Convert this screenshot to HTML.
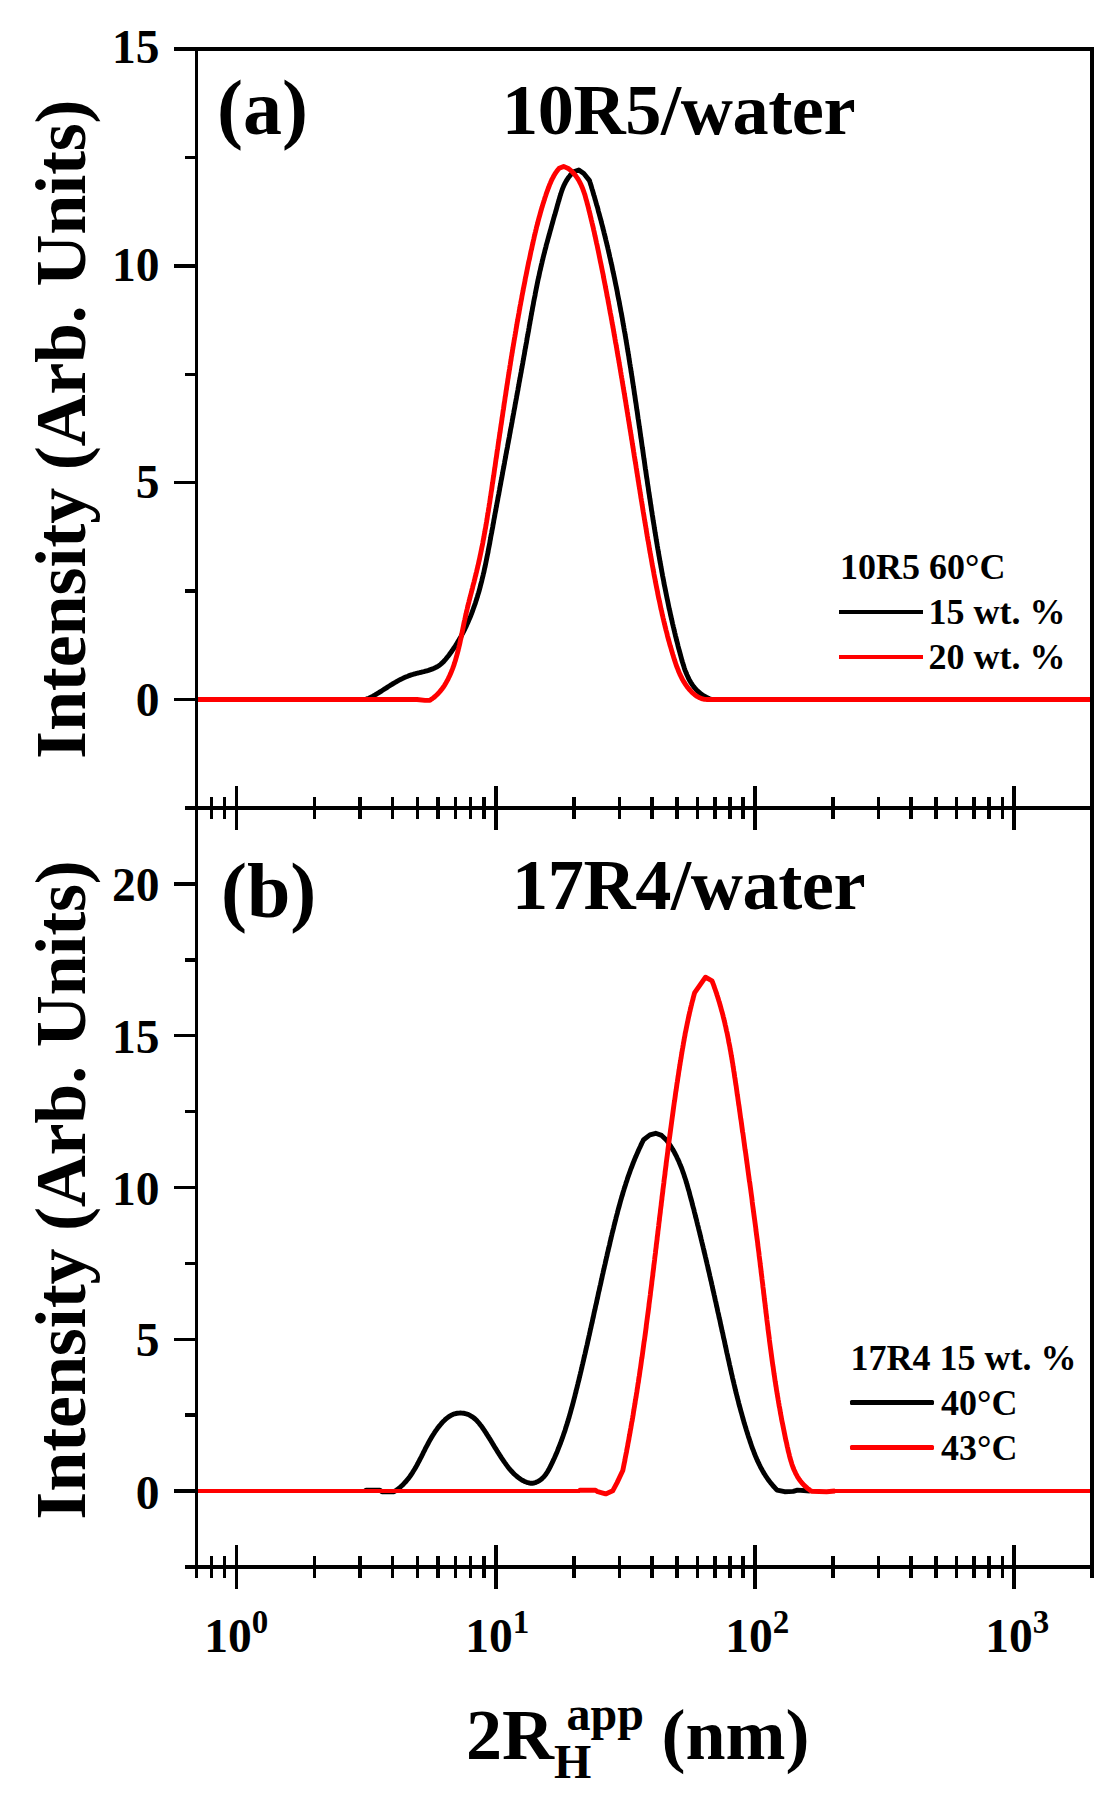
<!DOCTYPE html>
<html lang="en"><head><meta charset="utf-8"><title>DLS size distributions</title>
<style>
html,body{margin:0;padding:0;background:#fff;}
body{width:1115px;height:1802px;overflow:hidden;}
svg{display:block;}
text{font-family:"Liberation Serif","Times New Roman",Times,serif;font-weight:bold;fill:#000;}
.ax{stroke:#000;stroke-width:3.5;fill:none;stroke-linecap:butt;}
.cv{fill:none;stroke-width:4.9;stroke-linejoin:round;stroke-linecap:butt;}
.k{stroke:#000;}.r{stroke:#f00;}
.t72{font-size:72px;}.t71{font-size:72.3px;letter-spacing:-0.4px;}.t78{font-size:78px;}.t47{font-size:47.5px;}.t34{font-size:36px;}.t32{font-size:33px;}.t48{font-size:48px;}.yt{font-size:72px;letter-spacing:-0.54px;}
</style></head><body>
<svg width="1115" height="1802" viewBox="0 0 1115 1802">
<rect x="0" y="0" width="1115" height="1802" fill="#fff"/>
<g id="curves">
<polyline class="cv k" points="360.0,699.5 361.6,699.6 363.1,699.5 364.6,699.4 366.0,699.1 367.5,698.7 368.8,698.2 370.2,697.6 371.5,696.9 372.9,696.2 374.2,695.5 375.4,694.7 376.7,694.0 378.0,693.2 379.3,692.4 380.5,691.6 381.8,690.8 383.0,690.0 384.3,689.2 385.6,688.4 386.8,687.6 388.1,686.7 389.3,686.0 390.6,685.2 391.9,684.4 393.1,683.6 394.4,682.8 395.7,682.1 397.0,681.3 398.3,680.6 399.6,679.9 401.0,679.2 402.3,678.6 403.6,677.9 405.0,677.3 406.4,676.7 407.8,676.2 409.2,675.6 410.6,675.1 412.0,674.7 413.5,674.2 415.0,673.8 416.5,673.4 418.0,673.0 419.5,672.7 421.0,672.3 422.5,671.9 423.9,671.6 425.4,671.2 426.9,670.8 428.4,670.4 429.8,669.9 431.2,669.4 432.6,668.9 434.0,668.3 435.3,667.7 436.6,667.0 437.9,666.3 439.1,665.5 440.3,664.6 441.4,663.7 442.5,662.6 443.6,661.6 444.6,660.4 445.6,659.3 446.6,658.1 447.5,656.9 448.5,655.7 449.4,654.5 450.3,653.2 451.2,652.0 452.1,650.8 452.9,649.5 453.8,648.3 454.6,647.0 455.4,645.8 456.2,644.5 457.0,643.2 457.8,641.9 458.6,640.7 459.3,639.4 460.1,638.1 460.8,636.8 461.5,635.5 462.2,634.2 462.9,632.8 463.6,631.5 464.3,630.2 464.9,628.9 465.6,627.5 466.2,626.2 466.8,624.8 467.4,623.5 468.0,622.1 468.6,620.8 469.2,619.4 469.8,618.0 470.4,616.6 470.9,615.3 471.5,613.9 472.0,612.5 472.5,611.1 473.0,609.7 473.5,608.3 474.0,606.9 474.5,605.5 475.0,604.1 475.5,602.7 475.9,601.3 476.4,599.9 476.8,598.4 477.3,597.0 477.7,595.6 478.1,594.1 478.6,592.7 479.0,591.3 479.4,589.8 479.8,588.4 480.2,586.9 480.5,585.5 480.9,584.0 481.3,582.6 481.7,581.1 482.0,579.7 482.4,578.2 482.7,576.8 483.1,575.3 483.4,573.8 483.8,572.4 484.1,570.9 484.4,569.4 484.7,568.0 485.1,566.5 485.4,565.0 485.7,563.5 486.0,562.0 486.3,560.6 486.6,559.1 486.9,557.6 487.2,556.1 487.5,554.6 487.8,553.2 488.1,551.7 488.3,550.2 488.6,548.7 488.9,547.2 489.2,545.7 489.5,544.2 489.8,542.8 490.0,541.3 490.3,539.8 490.6,538.3 490.8,536.8 491.1,535.3 491.4,533.8 491.7,532.4 491.9,530.9 492.2,529.4 492.5,527.9 492.8,526.4 493.0,524.9 493.3,523.4 493.6,522.0 493.8,520.5 494.1,519.0 494.4,517.5 494.7,516.0 494.9,514.6 495.2,513.1 495.5,511.6 495.8,510.1 496.0,508.6 496.3,507.2 496.6,505.7 496.8,504.2 497.1,502.7 497.4,501.2 497.7,499.8 497.9,498.3 498.2,496.8 498.5,495.3 498.8,493.9 499.0,492.4 499.3,490.9 499.6,489.4 499.8,488.0 500.1,486.5 500.4,485.0 500.7,483.5 500.9,482.1 501.2,480.6 501.5,479.1 501.8,477.6 502.0,476.2 502.3,474.7 502.6,473.2 502.8,471.7 503.1,470.3 503.4,468.8 503.7,467.3 503.9,465.9 504.2,464.4 504.5,462.9 504.7,461.4 505.0,460.0 505.3,458.5 505.6,457.0 505.8,455.6 506.1,454.1 506.4,452.6 506.6,451.1 506.9,449.7 507.2,448.2 507.5,446.7 507.7,445.3 508.0,443.8 508.3,442.3 508.5,440.9 508.8,439.4 509.1,437.9 509.4,436.4 509.6,435.0 509.9,433.5 510.2,432.0 510.4,430.6 510.7,429.1 511.0,427.6 511.3,426.2 511.5,424.7 511.8,423.2 512.1,421.7 512.3,420.3 512.6,418.8 512.9,417.3 513.1,415.9 513.4,414.4 513.7,412.9 513.9,411.5 514.2,410.0 514.5,408.5 514.8,407.1 515.0,405.6 515.3,404.1 515.6,402.6 515.8,401.2 516.1,399.7 516.4,398.2 516.6,396.8 516.9,395.3 517.2,393.8 517.4,392.4 517.7,390.9 518.0,389.4 518.2,387.9 518.5,386.5 518.8,385.0 519.0,383.5 519.3,382.1 519.6,380.6 519.8,379.1 520.1,377.6 520.4,376.2 520.6,374.7 520.9,373.2 521.2,371.7 521.4,370.3 521.7,368.8 522.0,367.3 522.2,365.9 522.5,364.4 522.8,362.9 523.0,361.4 523.3,360.0 523.6,358.5 523.8,357.0 524.1,355.5 524.4,354.1 524.6,352.6 524.9,351.1 525.1,349.6 525.4,348.2 525.7,346.7 525.9,345.2 526.2,343.7 526.5,342.2 526.7,340.8 527.0,339.3 527.2,337.8 527.5,336.3 527.8,334.8 528.0,333.4 528.3,331.9 528.6,330.4 528.8,328.9 529.1,327.4 529.3,326.0 529.6,324.5 529.9,323.0 530.1,321.5 530.4,320.0 530.7,318.6 530.9,317.1 531.2,315.6 531.5,314.1 531.7,312.6 532.0,311.2 532.3,309.7 532.5,308.2 532.8,306.7 533.1,305.2 533.4,303.8 533.6,302.3 533.9,300.8 534.2,299.3 534.5,297.8 534.8,296.4 535.1,294.9 535.3,293.4 535.6,291.9 535.9,290.5 536.2,289.0 536.5,287.5 536.8,286.0 537.1,284.6 537.4,283.1 537.7,281.6 538.0,280.1 538.3,278.7 538.7,277.2 539.0,275.7 539.3,274.3 539.6,272.8 539.9,271.3 540.3,269.9 540.6,268.4 540.9,267.0 541.3,265.5 541.6,264.0 542.0,262.6 542.3,261.1 542.7,259.7 543.0,258.2 543.4,256.7 543.7,255.3 544.1,253.8 544.5,252.4 544.8,250.9 545.2,249.5 545.6,248.0 546.0,246.6 546.3,245.1 546.7,243.7 547.1,242.3 547.5,240.8 547.9,239.4 548.3,237.9 548.7,236.5 549.1,235.0 549.5,233.6 549.9,232.1 550.3,230.7 550.7,229.3 551.1,227.8 551.5,226.4 551.9,224.9 552.3,223.5 552.7,222.0 553.1,220.6 553.5,219.2 553.9,217.7 554.3,216.3 554.8,214.8 555.2,213.4 555.6,211.9 556.0,210.5 556.4,209.1 556.8,207.6 557.2,206.2 557.6,204.7 558.0,203.3 558.4,201.8 558.9,200.4 559.3,198.9 559.7,197.5 560.1,196.0 560.6,194.6 561.0,193.2 561.5,191.8 562.0,190.3 562.5,188.9 563.0,187.6 563.6,186.2 564.2,184.8 564.9,183.5 565.6,182.2 566.3,180.9 567.1,179.6 567.9,178.4 568.7,177.2 569.7,176.0 570.6,174.8 571.7,173.7 572.8,172.6 573.6,171.8 578.8,170.0 583.8,173.5 589.5,180.6 589.9,182.0 590.4,183.5 590.8,184.9 591.3,186.3 591.7,187.8 592.1,189.2 592.6,190.6 593.0,192.1 593.4,193.5 593.8,195.0 594.3,196.4 594.7,197.8 595.1,199.3 595.5,200.7 595.9,202.2 596.3,203.6 596.7,205.0 597.2,206.5 597.6,207.9 598.0,209.4 598.3,210.8 598.7,212.3 599.1,213.7 599.5,215.2 599.9,216.6 600.3,218.1 600.7,219.5 601.1,220.9 601.4,222.4 601.8,223.8 602.2,225.3 602.6,226.7 602.9,228.2 603.3,229.7 603.7,231.1 604.0,232.6 604.4,234.0 604.8,235.5 605.1,236.9 605.5,238.4 605.8,239.8 606.2,241.3 606.5,242.7 606.9,244.2 607.2,245.7 607.6,247.1 607.9,248.6 608.3,250.0 608.6,251.5 608.9,252.9 609.3,254.4 609.6,255.9 609.9,257.3 610.3,258.8 610.6,260.3 610.9,261.7 611.2,263.2 611.6,264.6 611.9,266.1 612.2,267.6 612.5,269.0 612.8,270.5 613.1,272.0 613.5,273.4 613.8,274.9 614.1,276.4 614.4,277.8 614.7,279.3 615.0,280.8 615.3,282.2 615.6,283.7 615.9,285.2 616.2,286.6 616.5,288.1 616.8,289.6 617.1,291.0 617.4,292.5 617.6,294.0 617.9,295.5 618.2,296.9 618.5,298.4 618.8,299.9 619.1,301.3 619.4,302.8 619.6,304.3 619.9,305.8 620.2,307.2 620.5,308.7 620.7,310.2 621.0,311.7 621.3,313.1 621.6,314.6 621.8,316.1 622.1,317.6 622.4,319.0 622.6,320.5 622.9,322.0 623.1,323.5 623.4,324.9 623.7,326.4 623.9,327.9 624.2,329.4 624.4,330.9 624.7,332.3 625.0,333.8 625.2,335.3 625.5,336.8 625.7,338.3 626.0,339.7 626.2,341.2 626.5,342.7 626.7,344.2 627.0,345.7 627.2,347.1 627.4,348.6 627.7,350.1 627.9,351.6 628.2,353.1 628.4,354.5 628.7,356.0 628.9,357.5 629.1,359.0 629.4,360.5 629.6,362.0 629.8,363.4 630.1,364.9 630.3,366.4 630.6,367.9 630.8,369.4 631.0,370.9 631.2,372.3 631.5,373.8 631.7,375.3 631.9,376.8 632.2,378.3 632.4,379.8 632.6,381.2 632.8,382.7 633.1,384.2 633.3,385.7 633.5,387.2 633.8,388.7 634.0,390.2 634.2,391.6 634.4,393.1 634.6,394.6 634.9,396.1 635.1,397.6 635.3,399.1 635.5,400.6 635.7,402.0 636.0,403.5 636.2,405.0 636.4,406.5 636.6,408.0 636.8,409.5 637.1,411.0 637.3,412.4 637.5,413.9 637.7,415.4 637.9,416.9 638.1,418.4 638.4,419.9 638.6,421.4 638.8,422.9 639.0,424.3 639.2,425.8 639.4,427.3 639.7,428.8 639.9,430.3 640.1,431.8 640.3,433.3 640.5,434.7 640.7,436.2 640.9,437.7 641.2,439.2 641.4,440.7 641.6,442.2 641.8,443.7 642.0,445.2 642.2,446.6 642.4,448.1 642.7,449.6 642.9,451.1 643.1,452.6 643.3,454.1 643.5,455.6 643.7,457.0 643.9,458.5 644.2,460.0 644.4,461.5 644.6,463.0 644.8,464.5 645.0,466.0 645.2,467.4 645.4,468.9 645.7,470.4 645.9,471.9 646.1,473.4 646.3,474.9 646.5,476.3 646.7,477.8 647.0,479.3 647.2,480.8 647.4,482.3 647.6,483.8 647.8,485.3 648.1,486.7 648.3,488.2 648.5,489.7 648.7,491.2 648.9,492.7 649.2,494.2 649.4,495.6 649.6,497.1 649.8,498.6 650.1,500.1 650.3,501.6 650.5,503.0 650.7,504.5 651.0,506.0 651.2,507.5 651.4,509.0 651.6,510.5 651.9,511.9 652.1,513.4 652.3,514.9 652.6,516.4 652.8,517.9 653.0,519.3 653.2,520.8 653.5,522.3 653.7,523.8 654.0,525.2 654.2,526.7 654.4,528.2 654.7,529.7 654.9,531.2 655.1,532.6 655.4,534.1 655.6,535.6 655.9,537.1 656.1,538.5 656.3,540.0 656.6,541.5 656.8,543.0 657.1,544.4 657.3,545.9 657.6,547.4 657.8,548.9 658.1,550.3 658.3,551.8 658.6,553.3 658.8,554.8 659.1,556.2 659.4,557.7 659.6,559.2 659.9,560.7 660.1,562.1 660.4,563.6 660.7,565.1 660.9,566.5 661.2,568.0 661.5,569.5 661.7,571.0 662.0,572.4 662.3,573.9 662.5,575.4 662.8,576.8 663.1,578.3 663.4,579.8 663.7,581.2 663.9,582.7 664.2,584.2 664.5,585.7 664.8,587.1 665.1,588.6 665.4,590.1 665.7,591.5 666.0,593.0 666.3,594.5 666.6,595.9 666.9,597.4 667.2,598.9 667.5,600.3 667.8,601.8 668.1,603.3 668.4,604.8 668.7,606.2 669.0,607.7 669.3,609.2 669.7,610.6 670.0,612.1 670.3,613.6 670.6,615.0 671.0,616.5 671.3,618.0 671.6,619.4 672.0,620.9 672.3,622.4 672.6,623.8 673.0,625.3 673.3,626.8 673.7,628.2 674.0,629.7 674.4,631.2 674.7,632.6 675.1,634.1 675.4,635.6 675.8,637.0 676.2,638.5 676.5,640.0 676.9,641.4 677.3,642.9 677.7,644.4 678.0,645.8 678.4,647.3 678.8,648.8 679.2,650.2 679.6,651.7 680.0,653.2 680.4,654.7 680.8,656.1 681.2,657.6 681.6,659.1 682.0,660.5 682.4,662.0 682.9,663.4 683.3,664.9 683.8,666.3 684.2,667.7 684.7,669.2 685.2,670.6 685.8,672.0 686.3,673.3 686.9,674.7 687.5,676.0 688.1,677.4 688.7,678.7 689.4,680.0 690.1,681.2 690.8,682.5 691.6,683.7 692.4,684.9 693.3,686.1 694.1,687.2 695.1,688.3 696.0,689.4 697.0,690.4 698.1,691.5 699.2,692.4 700.3,693.4 701.5,694.3 702.7,695.2 704.0,696.0 705.3,696.7 706.7,697.5 708.1,698.1 709.6,698.7 711.1,699.2 712.0,699.5"/>
<rect x="196.5" y="697" width="221.5" height="5" fill="#f00" shape-rendering="crispEdges"/>
<rect x="707.0" y="697" width="385.0" height="5" fill="#f00" shape-rendering="crispEdges"/>
<polyline class="cv r" points="417.0,699.5 425.0,700.4 430.0,700.2 431.3,699.3 432.6,698.4 433.8,697.5 435.0,696.5 436.1,695.5 437.2,694.5 438.2,693.4 439.2,692.3 440.2,691.2 441.1,690.0 442.1,688.9 442.9,687.7 443.8,686.5 444.6,685.2 445.3,684.0 446.1,682.7 446.8,681.4 447.5,680.1 448.2,678.8 448.8,677.4 449.5,676.1 450.1,674.7 450.7,673.4 451.3,672.0 451.8,670.6 452.4,669.2 452.9,667.9 453.4,666.5 453.9,665.1 454.4,663.6 454.8,662.2 455.3,660.8 455.7,659.4 456.1,657.9 456.5,656.5 456.9,655.1 457.3,653.6 457.7,652.2 458.1,650.7 458.4,649.2 458.8,647.8 459.1,646.3 459.5,644.8 459.8,643.4 460.1,641.9 460.4,640.4 460.8,638.9 461.1,637.4 461.4,636.0 461.7,634.5 462.0,633.0 462.3,631.5 462.6,630.0 462.9,628.5 463.2,627.0 463.5,625.6 463.8,624.1 464.1,622.6 464.4,621.1 464.8,619.6 465.1,618.2 465.4,616.7 465.7,615.2 466.1,613.7 466.4,612.3 466.7,610.8 467.1,609.3 467.4,607.9 467.8,606.4 468.1,605.0 468.5,603.5 468.9,602.1 469.2,600.6 469.6,599.2 470.0,597.7 470.3,596.3 470.7,594.8 471.1,593.4 471.5,591.9 471.8,590.5 472.2,589.0 472.6,587.6 472.9,586.1 473.3,584.7 473.7,583.2 474.1,581.8 474.4,580.3 474.8,578.9 475.1,577.4 475.5,576.0 475.9,574.5 476.2,573.1 476.6,571.6 476.9,570.2 477.3,568.7 477.6,567.3 477.9,565.8 478.3,564.4 478.6,562.9 478.9,561.5 479.3,560.0 479.6,558.5 479.9,557.1 480.2,555.6 480.5,554.2 480.8,552.7 481.1,551.2 481.4,549.8 481.7,548.3 482.0,546.8 482.3,545.4 482.6,543.9 482.9,542.4 483.1,540.9 483.4,539.5 483.7,538.0 484.0,536.5 484.2,535.0 484.5,533.6 484.8,532.1 485.0,530.6 485.3,529.1 485.6,527.7 485.8,526.2 486.1,524.7 486.3,523.2 486.6,521.7 486.8,520.3 487.1,518.8 487.3,517.3 487.5,515.8 487.8,514.3 488.0,512.8 488.3,511.4 488.5,509.9 488.7,508.4 489.0,506.9 489.2,505.4 489.4,503.9 489.7,502.4 489.9,501.0 490.1,499.5 490.3,498.0 490.6,496.5 490.8,495.0 491.0,493.5 491.2,492.0 491.5,490.5 491.7,489.1 491.9,487.6 492.1,486.1 492.3,484.6 492.6,483.1 492.8,481.6 493.0,480.1 493.2,478.7 493.4,477.2 493.7,475.7 493.9,474.2 494.1,472.7 494.3,471.2 494.5,469.7 494.7,468.2 495.0,466.8 495.2,465.3 495.4,463.8 495.6,462.3 495.8,460.8 496.0,459.3 496.3,457.8 496.5,456.4 496.7,454.9 496.9,453.4 497.1,451.9 497.3,450.4 497.6,448.9 497.8,447.5 498.0,446.0 498.2,444.5 498.4,443.0 498.6,441.5 498.9,440.0 499.1,438.5 499.3,437.1 499.5,435.6 499.7,434.1 500.0,432.6 500.2,431.1 500.4,429.6 500.6,428.2 500.8,426.7 501.0,425.2 501.3,423.7 501.5,422.2 501.7,420.7 501.9,419.3 502.1,417.8 502.4,416.3 502.6,414.8 502.8,413.3 503.0,411.8 503.2,410.4 503.5,408.9 503.7,407.4 503.9,405.9 504.1,404.4 504.3,402.9 504.6,401.5 504.8,400.0 505.0,398.5 505.2,397.0 505.5,395.5 505.7,394.1 505.9,392.6 506.1,391.1 506.4,389.6 506.6,388.1 506.8,386.7 507.0,385.2 507.3,383.7 507.5,382.2 507.7,380.7 507.9,379.2 508.2,377.8 508.4,376.3 508.6,374.8 508.9,373.3 509.1,371.8 509.3,370.4 509.6,368.9 509.8,367.4 510.0,365.9 510.3,364.4 510.5,363.0 510.7,361.5 511.0,360.0 511.2,358.5 511.4,357.0 511.7,355.6 511.9,354.1 512.2,352.6 512.4,351.1 512.6,349.7 512.9,348.2 513.1,346.7 513.4,345.2 513.6,343.7 513.9,342.3 514.1,340.8 514.4,339.3 514.6,337.8 514.9,336.4 515.1,334.9 515.4,333.4 515.6,331.9 515.9,330.4 516.1,329.0 516.4,327.5 516.6,326.0 516.9,324.5 517.1,323.1 517.4,321.6 517.7,320.1 517.9,318.6 518.2,317.2 518.4,315.7 518.7,314.2 519.0,312.7 519.2,311.3 519.5,309.8 519.8,308.3 520.0,306.8 520.3,305.3 520.6,303.9 520.8,302.4 521.1,300.9 521.4,299.4 521.7,298.0 521.9,296.5 522.2,295.0 522.5,293.6 522.8,292.1 523.1,290.6 523.3,289.1 523.6,287.7 523.9,286.2 524.2,284.7 524.5,283.2 524.8,281.8 525.1,280.3 525.3,278.8 525.6,277.3 525.9,275.9 526.2,274.4 526.5,272.9 526.8,271.4 527.1,270.0 527.4,268.5 527.7,267.0 528.0,265.6 528.3,264.1 528.6,262.6 528.9,261.1 529.3,259.7 529.6,258.2 529.9,256.7 530.2,255.3 530.5,253.8 530.8,252.3 531.1,250.8 531.5,249.4 531.8,247.9 532.1,246.4 532.4,245.0 532.8,243.5 533.1,242.0 533.4,240.6 533.8,239.1 534.1,237.6 534.4,236.2 534.8,234.7 535.1,233.2 535.5,231.8 535.8,230.3 536.2,228.8 536.5,227.4 536.9,225.9 537.3,224.5 537.7,223.0 538.0,221.6 538.4,220.1 538.8,218.7 539.2,217.2 539.6,215.8 540.0,214.3 540.4,212.9 540.8,211.4 541.2,210.0 541.6,208.6 542.1,207.1 542.5,205.7 542.9,204.3 543.4,202.8 543.8,201.4 544.3,200.0 544.7,198.6 545.2,197.1 545.7,195.7 546.1,194.3 546.6,192.9 547.1,191.5 547.6,190.1 548.1,188.7 548.7,187.3 549.2,185.9 549.7,184.5 550.3,183.2 550.9,181.8 551.5,180.4 552.1,179.1 552.8,177.8 553.5,176.5 554.2,175.2 555.0,173.9 555.8,172.7 556.6,171.5 557.5,170.3 558.5,169.1 559.2,168.2 563.6,166.4 568.8,168.8 570.0,169.8 571.1,170.8 572.2,171.8 573.3,172.9 574.3,174.0 575.2,175.1 576.1,176.3 576.9,177.5 577.7,178.7 578.5,179.9 579.2,181.2 579.9,182.5 580.6,183.8 581.2,185.1 581.8,186.5 582.4,187.9 582.9,189.2 583.4,190.6 583.9,192.1 584.4,193.5 584.9,194.9 585.3,196.4 585.7,197.8 586.1,199.3 586.5,200.7 586.9,202.2 587.3,203.7 587.7,205.2 588.1,206.6 588.5,208.1 588.8,209.6 589.2,211.0 589.6,212.5 589.9,214.0 590.3,215.4 590.6,216.9 591.0,218.4 591.3,219.8 591.7,221.3 592.0,222.8 592.4,224.2 592.7,225.7 593.1,227.2 593.4,228.6 593.7,230.1 594.1,231.6 594.4,233.0 594.7,234.5 595.0,236.0 595.4,237.4 595.7,238.9 596.0,240.4 596.3,241.8 596.6,243.3 597.0,244.8 597.3,246.2 597.6,247.7 597.9,249.2 598.2,250.6 598.5,252.1 598.8,253.6 599.1,255.0 599.4,256.5 599.7,258.0 600.0,259.4 600.3,260.9 600.6,262.4 600.9,263.8 601.2,265.3 601.5,266.8 601.8,268.2 602.1,269.7 602.4,271.2 602.7,272.7 603.0,274.1 603.3,275.6 603.5,277.1 603.8,278.5 604.1,280.0 604.4,281.5 604.7,282.9 605.0,284.4 605.3,285.9 605.5,287.3 605.8,288.8 606.1,290.3 606.4,291.8 606.7,293.2 606.9,294.7 607.2,296.2 607.5,297.6 607.8,299.1 608.1,300.6 608.3,302.1 608.6,303.5 608.9,305.0 609.2,306.5 609.4,308.0 609.7,309.4 610.0,310.9 610.2,312.4 610.5,313.8 610.8,315.3 611.1,316.8 611.3,318.3 611.6,319.7 611.9,321.2 612.1,322.7 612.4,324.2 612.7,325.6 612.9,327.1 613.2,328.6 613.5,330.1 613.7,331.5 614.0,333.0 614.2,334.5 614.5,336.0 614.8,337.5 615.0,338.9 615.3,340.4 615.5,341.9 615.8,343.4 616.1,344.8 616.3,346.3 616.6,347.8 616.8,349.3 617.1,350.7 617.3,352.2 617.6,353.7 617.8,355.2 618.1,356.7 618.4,358.1 618.6,359.6 618.9,361.1 619.1,362.6 619.4,364.0 619.6,365.5 619.9,367.0 620.1,368.5 620.4,370.0 620.6,371.4 620.9,372.9 621.1,374.4 621.4,375.9 621.6,377.4 621.9,378.8 622.1,380.3 622.3,381.8 622.6,383.3 622.8,384.8 623.1,386.2 623.3,387.7 623.6,389.2 623.8,390.7 624.1,392.2 624.3,393.6 624.6,395.1 624.8,396.6 625.0,398.1 625.3,399.6 625.5,401.0 625.8,402.5 626.0,404.0 626.2,405.5 626.5,407.0 626.7,408.5 627.0,409.9 627.2,411.4 627.5,412.9 627.7,414.4 627.9,415.9 628.2,417.3 628.4,418.8 628.6,420.3 628.9,421.8 629.1,423.3 629.4,424.8 629.6,426.2 629.8,427.7 630.1,429.2 630.3,430.7 630.6,432.2 630.8,433.6 631.0,435.1 631.3,436.6 631.5,438.1 631.7,439.6 632.0,441.1 632.2,442.5 632.4,444.0 632.7,445.5 632.9,447.0 633.2,448.5 633.4,450.0 633.6,451.4 633.9,452.9 634.1,454.4 634.3,455.9 634.6,457.4 634.8,458.9 635.0,460.3 635.3,461.8 635.5,463.3 635.8,464.8 636.0,466.3 636.2,467.7 636.5,469.2 636.7,470.7 636.9,472.2 637.2,473.7 637.4,475.2 637.6,476.6 637.9,478.1 638.1,479.6 638.3,481.1 638.6,482.6 638.8,484.1 639.0,485.5 639.3,487.0 639.5,488.5 639.8,490.0 640.0,491.5 640.2,493.0 640.5,494.4 640.7,495.9 640.9,497.4 641.2,498.9 641.4,500.4 641.7,501.9 641.9,503.3 642.1,504.8 642.4,506.3 642.6,507.8 642.8,509.3 643.1,510.8 643.3,512.2 643.6,513.7 643.8,515.2 644.1,516.7 644.3,518.2 644.5,519.6 644.8,521.1 645.0,522.6 645.3,524.1 645.5,525.6 645.8,527.0 646.0,528.5 646.3,530.0 646.5,531.5 646.7,533.0 647.0,534.4 647.2,535.9 647.5,537.4 647.7,538.9 648.0,540.4 648.3,541.8 648.5,543.3 648.8,544.8 649.0,546.3 649.3,547.7 649.5,549.2 649.8,550.7 650.0,552.2 650.3,553.6 650.6,555.1 650.8,556.6 651.1,558.1 651.4,559.5 651.6,561.0 651.9,562.5 652.1,564.0 652.4,565.4 652.7,566.9 653.0,568.4 653.2,569.8 653.5,571.3 653.8,572.8 654.0,574.2 654.3,575.7 654.6,577.2 654.9,578.7 655.2,580.1 655.4,581.6 655.7,583.1 656.0,584.5 656.3,586.0 656.6,587.5 656.9,588.9 657.2,590.4 657.5,591.8 657.7,593.3 658.0,594.8 658.3,596.2 658.6,597.7 658.9,599.2 659.3,600.6 659.6,602.1 659.9,603.5 660.2,605.0 660.5,606.5 660.8,607.9 661.1,609.4 661.5,610.8 661.8,612.3 662.1,613.8 662.4,615.2 662.8,616.7 663.1,618.1 663.5,619.6 663.8,621.1 664.2,622.5 664.5,624.0 664.9,625.4 665.2,626.9 665.6,628.3 665.9,629.8 666.3,631.2 666.7,632.7 667.1,634.2 667.4,635.6 667.8,637.1 668.2,638.5 668.6,640.0 669.0,641.4 669.4,642.9 669.8,644.3 670.2,645.8 670.7,647.3 671.1,648.7 671.5,650.2 671.9,651.6 672.4,653.1 672.8,654.5 673.3,656.0 673.7,657.4 674.2,658.9 674.6,660.3 675.1,661.8 675.6,663.2 676.1,664.7 676.6,666.1 677.1,667.5 677.7,668.9 678.2,670.3 678.8,671.7 679.4,673.1 680.0,674.5 680.7,675.8 681.3,677.2 682.0,678.5 682.7,679.8 683.4,681.1 684.2,682.3 685.0,683.6 685.8,684.8 686.6,686.0 687.5,687.2 688.4,688.4 689.4,689.5 690.4,690.6 691.4,691.7 692.4,692.7 693.5,693.7 694.7,694.7 695.9,695.6 697.1,696.4 698.4,697.1 699.7,697.8 701.0,698.4 702.4,698.8 703.9,699.2 705.4,699.4 707.0,699.5 708.0,699.5"/>
<polyline class="cv k" points="365.0,1491.0 366.0,1490.3 380.0,1490.3 382.0,1491.7 394.0,1491.7 395.3,1490.9 396.6,1490.0 397.8,1489.1 399.0,1488.2 400.1,1487.3 401.2,1486.3 402.3,1485.3 403.4,1484.2 404.4,1483.1 405.4,1482.1 406.4,1480.9 407.3,1479.8 408.3,1478.6 409.2,1477.5 410.0,1476.3 410.9,1475.0 411.7,1473.8 412.5,1472.6 413.3,1471.3 414.1,1470.0 414.9,1468.7 415.7,1467.4 416.4,1466.1 417.1,1464.8 417.8,1463.5 418.5,1462.1 419.2,1460.8 419.9,1459.5 420.6,1458.1 421.3,1456.8 422.0,1455.4 422.7,1454.1 423.3,1452.7 424.0,1451.4 424.7,1450.1 425.3,1448.7 426.0,1447.4 426.7,1446.1 427.4,1444.8 428.1,1443.5 428.8,1442.2 429.5,1440.9 430.2,1439.6 431.0,1438.3 431.7,1437.1 432.5,1435.8 433.3,1434.5 434.1,1433.3 434.9,1432.0 435.7,1430.8 436.6,1429.6 437.5,1428.3 438.4,1427.1 439.4,1425.9 440.4,1424.7 441.4,1423.5 442.4,1422.4 443.5,1421.2 444.6,1420.2 445.7,1419.1 446.9,1418.1 448.1,1417.2 449.3,1416.4 450.6,1415.6 451.9,1414.9 453.3,1414.3 454.6,1413.8 456.1,1413.5 457.5,1413.2 459.0,1413.1 460.5,1413.0 461.9,1413.1 463.4,1413.2 464.9,1413.5 466.3,1413.9 467.7,1414.3 469.0,1414.9 470.3,1415.6 471.5,1416.3 472.8,1417.1 473.9,1418.0 475.1,1419.0 476.2,1420.1 477.2,1421.1 478.3,1422.3 479.3,1423.5 480.2,1424.7 481.2,1425.9 482.1,1427.2 483.0,1428.5 483.9,1429.7 484.7,1431.0 485.6,1432.3 486.4,1433.6 487.2,1434.9 488.0,1436.1 488.8,1437.4 489.6,1438.6 490.4,1439.9 491.1,1441.2 491.9,1442.4 492.7,1443.7 493.4,1444.9 494.2,1446.2 494.9,1447.4 495.7,1448.7 496.5,1449.9 497.2,1451.1 498.0,1452.4 498.8,1453.6 499.6,1454.9 500.4,1456.1 501.2,1457.4 502.0,1458.6 502.9,1459.9 503.7,1461.1 504.6,1462.4 505.5,1463.6 506.4,1464.9 507.3,1466.1 508.3,1467.4 509.2,1468.6 510.2,1469.8 511.3,1470.9 512.3,1472.1 513.4,1473.2 514.4,1474.2 515.6,1475.3 516.7,1476.3 517.9,1477.2 519.0,1478.1 520.3,1479.0 521.5,1479.8 522.8,1480.5 524.1,1481.2 525.4,1481.8 526.7,1482.3 528.1,1482.7 529.5,1483.0 530.9,1483.2 532.3,1483.2 533.7,1483.0 535.2,1482.7 536.6,1482.1 538.0,1481.5 539.3,1480.7 540.6,1479.8 541.7,1478.9 542.8,1477.8 543.9,1476.8 544.8,1475.6 545.7,1474.5 546.6,1473.2 547.4,1472.0 548.1,1470.7 548.9,1469.4 549.6,1468.0 550.3,1466.7 550.9,1465.3 551.6,1464.0 552.3,1462.6 552.9,1461.2 553.5,1459.9 554.2,1458.5 554.8,1457.1 555.4,1455.7 556.0,1454.4 556.6,1453.0 557.2,1451.6 557.7,1450.2 558.3,1448.8 558.8,1447.4 559.4,1446.0 559.9,1444.6 560.5,1443.2 561.0,1441.8 561.5,1440.4 562.0,1439.0 562.5,1437.6 563.0,1436.2 563.5,1434.8 564.0,1433.3 564.5,1431.9 565.0,1430.5 565.4,1429.1 565.9,1427.6 566.3,1426.2 566.8,1424.8 567.2,1423.3 567.7,1421.9 568.1,1420.5 568.5,1419.0 569.0,1417.6 569.4,1416.2 569.8,1414.7 570.2,1413.3 570.6,1411.8 571.0,1410.4 571.4,1408.9 571.8,1407.5 572.2,1406.1 572.6,1404.6 573.0,1403.2 573.4,1401.7 573.7,1400.3 574.1,1398.8 574.5,1397.3 574.9,1395.9 575.2,1394.4 575.6,1393.0 576.0,1391.5 576.3,1390.1 576.7,1388.6 577.1,1387.2 577.4,1385.7 577.8,1384.3 578.1,1382.8 578.5,1381.3 578.9,1379.9 579.2,1378.4 579.6,1377.0 579.9,1375.5 580.3,1374.1 580.6,1372.6 581.0,1371.1 581.3,1369.7 581.7,1368.2 582.0,1366.8 582.3,1365.3 582.7,1363.8 583.0,1362.4 583.4,1360.9 583.7,1359.5 584.0,1358.0 584.4,1356.5 584.7,1355.1 585.1,1353.6 585.4,1352.2 585.7,1350.7 586.1,1349.2 586.4,1347.8 586.7,1346.3 587.1,1344.8 587.4,1343.4 587.7,1341.9 588.0,1340.5 588.4,1339.0 588.7,1337.5 589.0,1336.1 589.4,1334.6 589.7,1333.1 590.0,1331.7 590.3,1330.2 590.7,1328.7 591.0,1327.3 591.3,1325.8 591.6,1324.4 592.0,1322.9 592.3,1321.4 592.6,1320.0 592.9,1318.5 593.3,1317.0 593.6,1315.6 593.9,1314.1 594.2,1312.6 594.5,1311.2 594.9,1309.7 595.2,1308.2 595.5,1306.8 595.8,1305.3 596.2,1303.9 596.5,1302.4 596.8,1300.9 597.1,1299.5 597.5,1298.0 597.8,1296.5 598.1,1295.1 598.4,1293.6 598.7,1292.1 599.1,1290.7 599.4,1289.2 599.7,1287.7 600.0,1286.3 600.4,1284.8 600.7,1283.4 601.0,1281.9 601.3,1280.4 601.7,1279.0 602.0,1277.5 602.3,1276.0 602.6,1274.6 603.0,1273.1 603.3,1271.6 603.6,1270.2 604.0,1268.7 604.3,1267.3 604.6,1265.8 605.0,1264.3 605.3,1262.9 605.6,1261.4 606.0,1259.9 606.3,1258.5 606.6,1257.0 607.0,1255.6 607.3,1254.1 607.6,1252.6 608.0,1251.2 608.3,1249.7 608.7,1248.2 609.0,1246.8 609.4,1245.3 609.7,1243.9 610.0,1242.4 610.4,1240.9 610.7,1239.5 611.1,1238.0 611.4,1236.6 611.8,1235.1 612.1,1233.6 612.5,1232.2 612.9,1230.7 613.2,1229.3 613.6,1227.8 613.9,1226.4 614.3,1224.9 614.7,1223.4 615.0,1222.0 615.4,1220.5 615.8,1219.1 616.1,1217.6 616.5,1216.2 616.9,1214.7 617.3,1213.3 617.6,1211.8 618.0,1210.4 618.4,1208.9 618.8,1207.5 619.2,1206.0 619.6,1204.6 620.0,1203.1 620.4,1201.7 620.8,1200.2 621.2,1198.8 621.6,1197.3 622.1,1195.9 622.5,1194.5 622.9,1193.0 623.3,1191.6 623.8,1190.2 624.2,1188.7 624.7,1187.3 625.1,1185.9 625.6,1184.4 626.0,1183.0 626.5,1181.6 627.0,1180.2 627.4,1178.8 627.9,1177.3 628.4,1175.9 628.9,1174.5 629.4,1173.1 629.9,1171.7 630.4,1170.3 630.9,1168.9 631.5,1167.5 632.0,1166.1 632.5,1164.7 633.1,1163.3 633.6,1161.9 634.2,1160.5 634.7,1159.1 635.3,1157.7 635.9,1156.4 636.5,1155.0 637.1,1153.6 637.7,1152.2 638.3,1150.9 638.9,1149.5 639.5,1148.1 640.2,1146.8 640.8,1145.4 641.4,1144.1 642.1,1142.7 642.8,1141.4 643.4,1140.0 643.6,1139.7 649.9,1134.9 655.7,1133.3 661.6,1135.4 666.1,1139.7 667.0,1140.9 667.9,1142.1 668.8,1143.3 669.7,1144.6 670.5,1145.8 671.3,1147.1 672.1,1148.3 672.8,1149.6 673.6,1150.9 674.3,1152.2 675.0,1153.5 675.7,1154.8 676.4,1156.1 677.0,1157.5 677.6,1158.8 678.3,1160.2 678.9,1161.5 679.4,1162.9 680.0,1164.3 680.6,1165.6 681.1,1167.0 681.7,1168.4 682.2,1169.8 682.7,1171.2 683.2,1172.6 683.7,1174.0 684.2,1175.5 684.6,1176.9 685.1,1178.3 685.6,1179.7 686.0,1181.2 686.4,1182.6 686.9,1184.0 687.3,1185.5 687.7,1186.9 688.1,1188.4 688.5,1189.8 689.0,1191.3 689.4,1192.7 689.7,1194.2 690.1,1195.6 690.5,1197.1 690.9,1198.5 691.3,1200.0 691.7,1201.4 692.1,1202.9 692.4,1204.4 692.8,1205.8 693.2,1207.3 693.6,1208.7 694.0,1210.2 694.3,1211.6 694.7,1213.1 695.1,1214.6 695.4,1216.0 695.8,1217.5 696.2,1218.9 696.6,1220.4 696.9,1221.8 697.3,1223.3 697.6,1224.8 698.0,1226.2 698.4,1227.7 698.7,1229.1 699.1,1230.6 699.5,1232.1 699.8,1233.5 700.2,1235.0 700.5,1236.4 700.9,1237.9 701.2,1239.3 701.6,1240.8 701.9,1242.3 702.3,1243.7 702.6,1245.2 703.0,1246.6 703.3,1248.1 703.7,1249.5 704.0,1251.0 704.4,1252.5 704.7,1253.9 705.1,1255.4 705.4,1256.8 705.8,1258.3 706.1,1259.8 706.4,1261.2 706.8,1262.7 707.1,1264.1 707.5,1265.6 707.8,1267.0 708.1,1268.5 708.5,1270.0 708.8,1271.4 709.2,1272.9 709.5,1274.3 709.8,1275.8 710.2,1277.3 710.5,1278.7 710.8,1280.2 711.2,1281.6 711.5,1283.1 711.8,1284.6 712.2,1286.0 712.5,1287.5 712.8,1288.9 713.1,1290.4 713.5,1291.9 713.8,1293.3 714.1,1294.8 714.5,1296.2 714.8,1297.7 715.1,1299.2 715.4,1300.6 715.8,1302.1 716.1,1303.6 716.4,1305.0 716.7,1306.5 717.1,1307.9 717.4,1309.4 717.7,1310.9 718.0,1312.3 718.4,1313.8 718.7,1315.3 719.0,1316.7 719.3,1318.2 719.7,1319.6 720.0,1321.1 720.3,1322.6 720.6,1324.0 720.9,1325.5 721.3,1327.0 721.6,1328.4 721.9,1329.9 722.2,1331.4 722.6,1332.8 722.9,1334.3 723.2,1335.7 723.5,1337.2 723.8,1338.7 724.2,1340.1 724.5,1341.6 724.8,1343.1 725.1,1344.5 725.4,1346.0 725.8,1347.5 726.1,1348.9 726.4,1350.4 726.7,1351.9 727.0,1353.3 727.4,1354.8 727.7,1356.3 728.0,1357.7 728.3,1359.2 728.7,1360.7 729.0,1362.1 729.3,1363.6 729.6,1365.1 730.0,1366.5 730.3,1368.0 730.6,1369.5 731.0,1370.9 731.3,1372.4 731.6,1373.9 732.0,1375.3 732.3,1376.8 732.6,1378.3 733.0,1379.7 733.3,1381.2 733.7,1382.6 734.0,1384.1 734.4,1385.6 734.7,1387.0 735.1,1388.5 735.4,1390.0 735.8,1391.4 736.1,1392.9 736.5,1394.3 736.9,1395.8 737.2,1397.2 737.6,1398.7 738.0,1400.2 738.4,1401.6 738.7,1403.1 739.1,1404.5 739.5,1406.0 739.9,1407.4 740.3,1408.9 740.7,1410.3 741.1,1411.8 741.5,1413.2 741.9,1414.7 742.3,1416.1 742.7,1417.5 743.1,1419.0 743.5,1420.4 743.9,1421.9 744.3,1423.3 744.8,1424.8 745.2,1426.2 745.6,1427.6 746.1,1429.1 746.5,1430.5 747.0,1431.9 747.4,1433.4 747.9,1434.8 748.3,1436.2 748.8,1437.6 749.3,1439.1 749.8,1440.5 750.2,1441.9 750.7,1443.3 751.2,1444.8 751.7,1446.2 752.2,1447.6 752.7,1449.0 753.3,1450.4 753.8,1451.8 754.3,1453.2 754.9,1454.6 755.4,1456.0 756.0,1457.3 756.6,1458.7 757.2,1460.1 757.8,1461.4 758.5,1462.8 759.1,1464.1 759.8,1465.5 760.4,1466.8 761.1,1468.1 761.8,1469.4 762.5,1470.7 763.3,1472.0 764.0,1473.3 764.8,1474.5 765.6,1475.8 766.4,1477.0 767.3,1478.3 768.1,1479.5 769.0,1480.7 769.9,1481.9 770.8,1483.1 771.8,1484.2 772.7,1485.4 773.7,1486.5 774.8,1487.7 775.8,1488.8 776.9,1489.9 777.1,1490.1 784.6,1491.7 793.2,1491.4 797.5,1490.1 810.0,1491.0"/>
<rect x="196.5" y="1489" width="383.9" height="4" fill="#f00" shape-rendering="crispEdges"/>
<rect x="834.0" y="1489" width="258.0" height="4" fill="#f00" shape-rendering="crispEdges"/>
<polyline class="cv r" points="579.4,1491.0 580.0,1490.2 595.5,1490.2 597.7,1491.7 602.0,1492.8 605.7,1493.9 612.7,1490.8 617.1,1482.6 622.8,1470.5 623.1,1469.0 623.4,1467.6 623.7,1466.1 624.0,1464.6 624.3,1463.1 624.6,1461.7 624.9,1460.2 625.1,1458.7 625.4,1457.2 625.7,1455.8 626.0,1454.3 626.3,1452.8 626.6,1451.4 626.8,1449.9 627.1,1448.4 627.4,1446.9 627.7,1445.5 627.9,1444.0 628.2,1442.5 628.5,1441.0 628.8,1439.6 629.0,1438.1 629.3,1436.6 629.6,1435.1 629.8,1433.7 630.1,1432.2 630.3,1430.7 630.6,1429.2 630.9,1427.7 631.1,1426.3 631.4,1424.8 631.6,1423.3 631.9,1421.8 632.2,1420.4 632.4,1418.9 632.7,1417.4 632.9,1415.9 633.2,1414.4 633.4,1413.0 633.6,1411.5 633.9,1410.0 634.1,1408.5 634.4,1407.0 634.6,1405.6 634.9,1404.1 635.1,1402.6 635.3,1401.1 635.6,1399.6 635.8,1398.2 636.1,1396.7 636.3,1395.2 636.5,1393.7 636.8,1392.2 637.0,1390.8 637.2,1389.3 637.5,1387.8 637.7,1386.3 637.9,1384.8 638.1,1383.4 638.4,1381.9 638.6,1380.4 638.8,1378.9 639.0,1377.4 639.3,1375.9 639.5,1374.5 639.7,1373.0 639.9,1371.5 640.1,1370.0 640.4,1368.5 640.6,1367.0 640.8,1365.6 641.0,1364.1 641.2,1362.6 641.4,1361.1 641.6,1359.6 641.9,1358.1 642.1,1356.7 642.3,1355.2 642.5,1353.7 642.7,1352.2 642.9,1350.7 643.1,1349.2 643.3,1347.7 643.5,1346.3 643.7,1344.8 643.9,1343.3 644.1,1341.8 644.4,1340.3 644.6,1338.8 644.8,1337.3 645.0,1335.9 645.2,1334.4 645.4,1332.9 645.6,1331.4 645.8,1329.9 646.0,1328.4 646.2,1326.9 646.3,1325.5 646.5,1324.0 646.7,1322.5 646.9,1321.0 647.1,1319.5 647.3,1318.0 647.5,1316.5 647.7,1315.0 647.9,1313.6 648.1,1312.1 648.3,1310.6 648.5,1309.1 648.7,1307.6 648.9,1306.1 649.0,1304.6 649.2,1303.1 649.4,1301.7 649.6,1300.2 649.8,1298.7 650.0,1297.2 650.2,1295.7 650.4,1294.2 650.5,1292.7 650.7,1291.2 650.9,1289.8 651.1,1288.3 651.3,1286.8 651.5,1285.3 651.7,1283.8 651.8,1282.3 652.0,1280.8 652.2,1279.3 652.4,1277.8 652.6,1276.4 652.8,1274.9 652.9,1273.4 653.1,1271.9 653.3,1270.4 653.5,1268.9 653.7,1267.4 653.8,1265.9 654.0,1264.4 654.2,1263.0 654.4,1261.5 654.6,1260.0 654.7,1258.5 654.9,1257.0 655.1,1255.5 655.3,1254.0 655.5,1252.5 655.6,1251.0 655.8,1249.5 656.0,1248.1 656.2,1246.6 656.3,1245.1 656.5,1243.6 656.7,1242.1 656.9,1240.6 657.1,1239.1 657.2,1237.6 657.4,1236.1 657.6,1234.6 657.8,1233.2 657.9,1231.7 658.1,1230.2 658.3,1228.7 658.5,1227.2 658.7,1225.7 658.8,1224.2 659.0,1222.7 659.2,1221.2 659.4,1219.8 659.5,1218.3 659.7,1216.8 659.9,1215.3 660.1,1213.8 660.3,1212.3 660.4,1210.8 660.6,1209.3 660.8,1207.8 661.0,1206.3 661.2,1204.9 661.3,1203.4 661.5,1201.9 661.7,1200.4 661.9,1198.9 662.0,1197.4 662.2,1195.9 662.4,1194.4 662.6,1192.9 662.8,1191.4 662.9,1190.0 663.1,1188.5 663.3,1187.0 663.5,1185.5 663.7,1184.0 663.9,1182.5 664.0,1181.0 664.2,1179.5 664.4,1178.0 664.6,1176.6 664.8,1175.1 665.0,1173.6 665.1,1172.1 665.3,1170.6 665.5,1169.1 665.7,1167.6 665.9,1166.1 666.1,1164.6 666.2,1163.2 666.4,1161.7 666.6,1160.2 666.8,1158.7 667.0,1157.2 667.2,1155.7 667.4,1154.2 667.6,1152.7 667.8,1151.3 667.9,1149.8 668.1,1148.3 668.3,1146.8 668.5,1145.3 668.7,1143.8 668.9,1142.3 669.1,1140.8 669.3,1139.3 669.5,1137.9 669.7,1136.4 669.9,1134.9 670.1,1133.4 670.3,1131.9 670.5,1130.4 670.7,1128.9 670.9,1127.5 671.1,1126.0 671.3,1124.5 671.5,1123.0 671.7,1121.5 671.9,1120.0 672.1,1118.5 672.3,1117.0 672.5,1115.6 672.7,1114.1 672.9,1112.6 673.1,1111.1 673.3,1109.6 673.5,1108.1 673.7,1106.7 673.9,1105.2 674.1,1103.7 674.3,1102.2 674.6,1100.7 674.8,1099.2 675.0,1097.7 675.2,1096.3 675.4,1094.8 675.6,1093.3 675.8,1091.8 676.1,1090.3 676.3,1088.8 676.5,1087.4 676.7,1085.9 676.9,1084.4 677.1,1082.9 677.4,1081.4 677.6,1079.9 677.8,1078.5 678.0,1077.0 678.3,1075.5 678.5,1074.0 678.7,1072.5 678.9,1071.1 679.2,1069.6 679.4,1068.1 679.6,1066.6 679.9,1065.1 680.1,1063.6 680.3,1062.2 680.6,1060.7 680.8,1059.2 681.1,1057.7 681.3,1056.2 681.5,1054.8 681.8,1053.3 682.0,1051.8 682.3,1050.3 682.5,1048.8 682.8,1047.4 683.0,1045.9 683.3,1044.4 683.5,1042.9 683.8,1041.5 684.1,1040.0 684.3,1038.5 684.6,1037.0 684.9,1035.6 685.1,1034.1 685.4,1032.6 685.7,1031.2 686.0,1029.7 686.3,1028.2 686.6,1026.7 686.9,1025.3 687.2,1023.8 687.5,1022.3 687.8,1020.9 688.1,1019.4 688.4,1017.9 688.7,1016.5 689.1,1015.0 689.4,1013.5 689.7,1012.1 690.1,1010.6 690.4,1009.2 690.8,1007.7 691.1,1006.2 691.5,1004.8 691.8,1003.3 692.2,1001.9 692.6,1000.4 693.0,999.0 693.3,997.5 693.7,996.1 694.1,994.6 694.5,993.2 694.7,992.6 705.5,977.2 712.0,980.8 712.5,982.2 713.1,983.6 713.6,985.0 714.1,986.4 714.6,987.9 715.1,989.3 715.6,990.7 716.1,992.1 716.6,993.5 717.0,995.0 717.5,996.4 717.9,997.8 718.4,999.3 718.8,1000.7 719.3,1002.1 719.7,1003.6 720.1,1005.0 720.5,1006.4 720.9,1007.9 721.3,1009.3 721.7,1010.8 722.1,1012.2 722.5,1013.7 722.9,1015.1 723.2,1016.6 723.6,1018.0 724.0,1019.5 724.3,1020.9 724.7,1022.4 725.0,1023.8 725.3,1025.3 725.7,1026.7 726.0,1028.2 726.3,1029.7 726.6,1031.1 727.0,1032.6 727.3,1034.1 727.6,1035.5 727.9,1037.0 728.2,1038.5 728.5,1039.9 728.7,1041.4 729.0,1042.9 729.3,1044.3 729.6,1045.8 729.9,1047.3 730.1,1048.8 730.4,1050.2 730.7,1051.7 730.9,1053.2 731.2,1054.7 731.4,1056.1 731.7,1057.6 731.9,1059.1 732.2,1060.6 732.4,1062.1 732.7,1063.5 732.9,1065.0 733.1,1066.5 733.4,1068.0 733.6,1069.5 733.8,1070.9 734.1,1072.4 734.3,1073.9 734.5,1075.4 734.7,1076.9 735.0,1078.4 735.2,1079.9 735.4,1081.3 735.6,1082.8 735.8,1084.3 736.1,1085.8 736.3,1087.3 736.5,1088.8 736.7,1090.3 736.9,1091.7 737.1,1093.2 737.3,1094.7 737.6,1096.2 737.8,1097.7 738.0,1099.2 738.2,1100.7 738.4,1102.1 738.6,1103.6 738.8,1105.1 739.1,1106.6 739.3,1108.1 739.5,1109.6 739.7,1111.1 739.9,1112.5 740.1,1114.0 740.3,1115.5 740.5,1117.0 740.7,1118.5 741.0,1120.0 741.2,1121.5 741.4,1122.9 741.6,1124.4 741.8,1125.9 742.0,1127.4 742.2,1128.9 742.4,1130.4 742.6,1131.9 742.9,1133.3 743.1,1134.8 743.3,1136.3 743.5,1137.8 743.7,1139.3 743.9,1140.8 744.1,1142.3 744.3,1143.7 744.5,1145.2 744.7,1146.7 744.9,1148.2 745.1,1149.7 745.4,1151.2 745.6,1152.7 745.8,1154.1 746.0,1155.6 746.2,1157.1 746.4,1158.6 746.6,1160.1 746.8,1161.6 747.0,1163.1 747.2,1164.5 747.4,1166.0 747.6,1167.5 747.8,1169.0 748.0,1170.5 748.2,1172.0 748.4,1173.5 748.6,1175.0 748.8,1176.4 749.0,1177.9 749.2,1179.4 749.4,1180.9 749.7,1182.4 749.9,1183.9 750.1,1185.4 750.3,1186.8 750.5,1188.3 750.7,1189.8 750.9,1191.3 751.1,1192.8 751.3,1194.3 751.5,1195.8 751.7,1197.2 751.9,1198.7 752.1,1200.2 752.2,1201.7 752.4,1203.2 752.6,1204.7 752.8,1206.2 753.0,1207.6 753.2,1209.1 753.4,1210.6 753.6,1212.1 753.8,1213.6 754.0,1215.1 754.2,1216.6 754.4,1218.1 754.6,1219.5 754.8,1221.0 755.0,1222.5 755.2,1224.0 755.4,1225.5 755.6,1227.0 755.8,1228.5 755.9,1229.9 756.1,1231.4 756.3,1232.9 756.5,1234.4 756.7,1235.9 756.9,1237.4 757.1,1238.9 757.3,1240.4 757.5,1241.8 757.7,1243.3 757.8,1244.8 758.0,1246.3 758.2,1247.8 758.4,1249.3 758.6,1250.8 758.8,1252.2 759.0,1253.7 759.1,1255.2 759.3,1256.7 759.5,1258.2 759.7,1259.7 759.9,1261.2 760.1,1262.7 760.2,1264.1 760.4,1265.6 760.6,1267.1 760.8,1268.6 761.0,1270.1 761.1,1271.6 761.3,1273.1 761.5,1274.6 761.7,1276.1 761.9,1277.5 762.0,1279.0 762.2,1280.5 762.4,1282.0 762.6,1283.5 762.8,1285.0 762.9,1286.5 763.1,1288.0 763.3,1289.4 763.5,1290.9 763.6,1292.4 763.8,1293.9 764.0,1295.4 764.2,1296.9 764.3,1298.4 764.5,1299.9 764.7,1301.4 764.9,1302.8 765.1,1304.3 765.2,1305.8 765.4,1307.3 765.6,1308.8 765.8,1310.3 765.9,1311.8 766.1,1313.3 766.3,1314.7 766.5,1316.2 766.7,1317.7 766.8,1319.2 767.0,1320.7 767.2,1322.2 767.4,1323.7 767.6,1325.2 767.8,1326.7 767.9,1328.1 768.1,1329.6 768.3,1331.1 768.5,1332.6 768.7,1334.1 768.9,1335.6 769.1,1337.1 769.3,1338.6 769.4,1340.0 769.6,1341.5 769.8,1343.0 770.0,1344.5 770.2,1346.0 770.4,1347.5 770.6,1349.0 770.8,1350.4 771.0,1351.9 771.2,1353.4 771.4,1354.9 771.6,1356.4 771.8,1357.9 772.0,1359.4 772.2,1360.9 772.4,1362.3 772.6,1363.8 772.8,1365.3 773.1,1366.8 773.3,1368.3 773.5,1369.8 773.7,1371.3 773.9,1372.7 774.1,1374.2 774.4,1375.7 774.6,1377.2 774.8,1378.7 775.0,1380.2 775.2,1381.6 775.5,1383.1 775.7,1384.6 775.9,1386.1 776.2,1387.6 776.4,1389.1 776.6,1390.5 776.9,1392.0 777.1,1393.5 777.4,1395.0 777.6,1396.5 777.9,1398.0 778.1,1399.4 778.4,1400.9 778.6,1402.4 778.9,1403.9 779.1,1405.4 779.4,1406.9 779.7,1408.3 779.9,1409.8 780.2,1411.3 780.4,1412.8 780.7,1414.3 781.0,1415.7 781.3,1417.2 781.5,1418.7 781.8,1420.2 782.1,1421.7 782.4,1423.1 782.7,1424.6 783.0,1426.1 783.3,1427.6 783.6,1429.0 783.9,1430.5 784.2,1432.0 784.5,1433.5 784.8,1435.0 785.1,1436.4 785.4,1437.9 785.7,1439.4 786.0,1440.9 786.4,1442.3 786.7,1443.8 787.0,1445.3 787.3,1446.8 787.7,1448.2 788.0,1449.7 788.3,1451.2 788.7,1452.7 789.1,1454.1 789.4,1455.6 789.8,1457.0 790.2,1458.5 790.6,1459.9 791.0,1461.3 791.5,1462.8 791.9,1464.2 792.4,1465.6 792.9,1467.0 793.4,1468.3 794.0,1469.7 794.6,1471.0 795.2,1472.3 795.8,1473.6 796.5,1474.9 797.2,1476.2 797.9,1477.4 798.7,1478.6 799.5,1479.8 800.4,1481.0 801.3,1482.1 802.2,1483.3 803.2,1484.3 804.2,1485.4 805.3,1486.4 806.4,1487.4 807.5,1488.4 808.8,1489.3 810.0,1490.2 811.4,1491.1 811.5,1491.2 826.6,1491.7 835.0,1491.0"/>
</g>
<g id="axes" class="ax" shape-rendering="crispEdges">
<g stroke="none" fill="#000" shape-rendering="crispEdges">
<rect x="195" y="47" width="3" height="1531"/>
<rect x="1090" y="47" width="4" height="1531"/>
<rect x="174" y="47" width="920" height="4"/>
<rect x="185" y="806" width="909" height="4"/>
<rect x="185" y="1565" width="909" height="4"/>
</g>
<path d="M174 699.6 H196.5 M174 482.7 H196.5 M174 265.9 H196.5 M185 591.1 H196.5 M185 374.3 H196.5 M185 157.4 H196.5 M174 1491.1 H196.5 M174 1339.3 H196.5 M174 1187.5 H196.5 M174 1035.7 H196.5 M174 883.9 H196.5 M185 1415.2 H196.5 M185 1263.4 H196.5 M185 1111.6 H196.5 M185 959.8 H196.5 M236.5 786.0 V830.0 M495.8 786.0 V830.0 M755.0 786.0 V830.0 M1014.2 786.0 V830.0 M211.4 797.0 V819.0 M224.6 797.0 V819.0 M314.5 797.0 V819.0 M360.2 797.0 V819.0 M392.6 797.0 V819.0 M417.7 797.0 V819.0 M438.2 797.0 V819.0 M455.6 797.0 V819.0 M470.6 797.0 V819.0 M483.9 797.0 V819.0 M573.8 797.0 V819.0 M619.4 797.0 V819.0 M651.8 797.0 V819.0 M677.0 797.0 V819.0 M697.5 797.0 V819.0 M714.8 797.0 V819.0 M729.9 797.0 V819.0 M743.1 797.0 V819.0 M833.0 797.0 V819.0 M878.7 797.0 V819.0 M911.1 797.0 V819.0 M936.2 797.0 V819.0 M956.7 797.0 V819.0 M974.1 797.0 V819.0 M989.1 797.0 V819.0 M1002.4 797.0 V819.0 M236.5 1545.0 V1589.0 M495.8 1545.0 V1589.0 M755.0 1545.0 V1589.0 M1014.2 1545.0 V1589.0 M211.4 1556.0 V1578.0 M224.6 1556.0 V1578.0 M314.5 1556.0 V1578.0 M360.2 1556.0 V1578.0 M392.6 1556.0 V1578.0 M417.7 1556.0 V1578.0 M438.2 1556.0 V1578.0 M455.6 1556.0 V1578.0 M470.6 1556.0 V1578.0 M483.9 1556.0 V1578.0 M573.8 1556.0 V1578.0 M619.4 1556.0 V1578.0 M651.8 1556.0 V1578.0 M677.0 1556.0 V1578.0 M697.5 1556.0 V1578.0 M714.8 1556.0 V1578.0 M729.9 1556.0 V1578.0 M743.1 1556.0 V1578.0 M833.0 1556.0 V1578.0 M878.7 1556.0 V1578.0 M911.1 1556.0 V1578.0 M936.2 1556.0 V1578.0 M956.7 1556.0 V1578.0 M974.1 1556.0 V1578.0 M989.1 1556.0 V1578.0 M1002.4 1556.0 V1578.0"/>
</g>
<g id="labels">
<text class="t47" x="159.5" y="62.9" text-anchor="end">15</text>
<text class="t47" x="159.5" y="280.8" text-anchor="end">10</text>
<text class="t47" x="159.5" y="497.6" text-anchor="end">5</text>
<text class="t47" x="159.5" y="715.5" text-anchor="end">0</text>
<text class="t47" x="159.5" y="1509.1" text-anchor="end">0</text>
<text class="t47" x="159.5" y="1356.3" text-anchor="end">5</text>
<text class="t47" x="159.5" y="1204.5" text-anchor="end">10</text>
<text class="t47" x="159.5" y="1052.7" text-anchor="end">15</text>
<text class="t47" x="159.5" y="900.9" text-anchor="end">20</text>
<text class="t47" x="204.3" y="1652">10<tspan class="t32" dy="-19">0</tspan></text>
<text class="t47" x="465.3" y="1652">10<tspan class="t32" dy="-19">1</tspan></text>
<text class="t47" x="725.3" y="1652">10<tspan class="t32" dy="-19">2</tspan></text>
<text class="t47" x="985.3" y="1652">10<tspan class="t32" dy="-19">3</tspan></text>
<text class="t78" x="217" y="134">(a)</text>
<text class="t71" x="501.9" y="134.3">10R5/water</text>
<text class="t78" x="221" y="917">(b)</text>
<text class="t71" x="511.9" y="909.3">17R4/water</text>
<text class="t72" transform="translate(85.3 759.0) rotate(-90)"><tspan x="0" style="letter-spacing:-0.1px">Intensity </tspan><tspan x="288.7" style="letter-spacing:-0.2px">(Arb. </tspan><tspan x="472.5" style="letter-spacing:-0.2px">Units)</tspan></text>
<text class="t72" transform="translate(85.3 1519.7) rotate(-90)"><tspan x="0" style="letter-spacing:-0.1px">Intensity </tspan><tspan x="288.7" style="letter-spacing:-0.2px">(Arb. </tspan><tspan x="472.5" style="letter-spacing:-0.2px">Units)</tspan></text>
<text class="t72" x="466" y="1759">2R</text>
<text class="t48" x="554" y="1778">H</text>
<text class="t48" x="566.5" y="1729.5">app</text>
<text class="t72" x="661.5" y="1759">(nm)</text>
<text class="t34" x="840" y="578.5">10R5 60°C</text>
<text class="t34" x="928.5" y="623.5">15 wt. %</text>
<text class="t34" x="928.5" y="668.5">20 wt. %</text>
<text class="t34" x="850.5" y="1369.5">17R4 15 wt. %</text>
<text class="t34" x="941" y="1414.5">40°C</text>
<text class="t34" x="941" y="1459.5">43°C</text>
</g>
<g id="legendlines" stroke="none" shape-rendering="crispEdges">
<rect x="839" y="610" width="84" height="4" fill="#000"/>
<rect x="839" y="655" width="84" height="4" fill="#f00"/>
</g>
<g stroke="none">
<rect x="850" y="1400" width="84" height="5" rx="1.5" fill="#000"/>
<rect x="850" y="1445" width="84" height="5" rx="1.5" fill="#f00"/>
</g>
</svg>
</body></html>
